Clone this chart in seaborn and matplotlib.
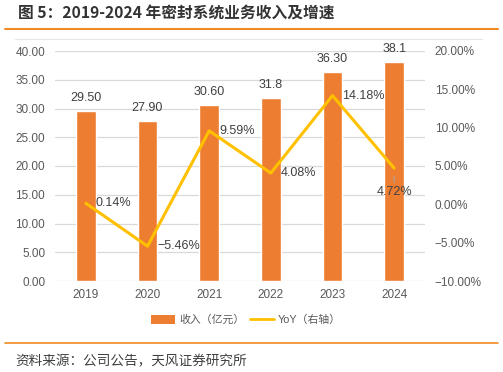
import numpy as np
import pandas as pd
import seaborn as sns
import matplotlib.pyplot as plt
from matplotlib.patches import Patch
from matplotlib.lines import Line2D
import matplotlib.ticker as ticker

# ---------------------------
# DATA
# ---------------------------
years = ["2019", "2020", "2021", "2022", "2023", "2024"]
revenue = [29.50, 27.90, 30.60, 31.8, 36.30, 38.1]
revenue_labels = ["29.50", "27.90", "30.60", "31.8", "36.30", "38.1"]
yoy = [0.14, -5.46, 9.59, 4.08, 14.18, 4.72]

title = "图 5：2019-2024 年密封系统业务收入及增速"
source = "资料来源：公司公告，天风证券研究所"

df = pd.DataFrame({"year": years, "revenue": revenue, "yoy": yoy})

# ---------------------------
# STYLE
# ---------------------------
sns.set_theme(style="white")
plt.rcParams["font.family"] = ["Liberation Sans", "Noto Sans CJK SC", "DejaVu Sans"]
plt.rcParams["axes.unicode_minus"] = True

bar_color = "#ED7D31"
line_color = "#FFC000"
accent = "#F08A24"
tick_color = "#595959"
label_color = "#404040"
grid_color = "#D9D9D9"

fig = plt.figure(figsize=(5.03, 3.72), dpi=100)
ax = fig.add_axes([55 / 503, 1 - 281 / 372, 370 / 503, 230 / 372])

# ---------------------------
# BARS
# ---------------------------
sns.barplot(data=df, x="year", y="revenue", color=bar_color,
            width=0.32, saturation=1, ax=ax, zorder=2)
ax.set_ylim(0, 40)
ax.set_xlim(-0.5, len(years) - 0.5)
ax.yaxis.set_major_locator(ticker.MultipleLocator(5))
ax.yaxis.set_major_formatter(ticker.FuncFormatter(lambda v, p: f"{v:.2f}"))
ax.grid(axis="y", color=grid_color, linewidth=0.9, zorder=0)
ax.set_axisbelow(True)
for s in ax.spines.values():
    s.set_visible(False)
ax.set_xlabel("")
ax.set_ylabel("")
ax.tick_params(axis="both", length=0, labelsize=8.5, colors=tick_color)
ax.tick_params(axis="y", pad=7)
ax.tick_params(axis="x", pad=6)

for i, (v, lab) in enumerate(zip(revenue, revenue_labels)):
    ax.annotate(lab, (i, v), xytext=(0, 5), textcoords="offset points",
                ha="center", va="bottom", fontsize=9, color=label_color)

# ---------------------------
# YOY LINE (right axis)
# ---------------------------
ax2 = ax.twinx()
sns.lineplot(x=np.arange(len(years)), y=yoy, color=line_color,
             linewidth=2.2, ax=ax2, zorder=3)
ax2.set_ylim(-10, 20)
ax2.yaxis.set_major_locator(ticker.MultipleLocator(5))
ax2.yaxis.set_major_formatter(ticker.FuncFormatter(lambda v, p: f"{v:.2f}%".replace("-", "\u2212")))
for s in ax2.spines.values():
    s.set_visible(False)
ax2.grid(False)
ax2.tick_params(axis="y", length=0, labelsize=8.5, colors=tick_color, pad=7)

for i, v in enumerate(yoy):
    txt = f"{v:.2f}%".replace("-", "\u2212")
    if i == len(yoy) - 1:
        ax2.annotate(txt, (i, v), xytext=(0, -17), textcoords="offset points",
                     ha="center", va="center", fontsize=9, color=label_color,
                     arrowprops=dict(arrowstyle="-", color="#A6A6A6", lw=0.8,
                                     shrinkA=0, shrinkB=6))
    else:
        ax2.annotate(txt, (i, v), xytext=(7, 0), textcoords="offset points",
                     ha="left", va="center", fontsize=9, color=label_color)

# ---------------------------
# LEGEND
# ---------------------------
handles = [Patch(facecolor=bar_color, edgecolor="none"),
           Line2D([0], [0], color=line_color, linewidth=2)]
fig.legend(handles, ["收入（亿元）", "YoY（右轴）"], loc="center",
           bbox_to_anchor=(246 / 503, 1 - 320 / 372), ncol=2, frameon=False,
           fontsize=7.8, labelcolor=tick_color, handlelength=2.2,
           handleheight=0.9, columnspacing=0.5, handletextpad=0.4)

# ---------------------------
# TITLE, RULES, SOURCE
# ---------------------------
fig.text(18 / 503, 1 - 14 / 372, title, fontsize=11.3, fontweight="bold",
         color="#333333", va="center", ha="left",
         family=["Noto Sans CJK SC", "DejaVu Sans"])
fig.add_artist(Line2D([5 / 503, 498 / 503], [1 - 29 / 372] * 2,
                      color=accent, linewidth=1.5))
fig.add_artist(Line2D([15 / 503, 482 / 503], [1 - 39 / 372] * 2,
                      color="#E6E6E6", linewidth=0.8))
fig.add_artist(Line2D([5 / 503, 498 / 503], [1 - 343 / 372] * 2,
                      color=accent, linewidth=1.2))
fig.text(15 / 503, 1 - 361 / 372, source, fontsize=9.8, color=label_color,
         va="center", ha="left", family=["Noto Sans CJK SC", "DejaVu Sans"])

fig.savefig("out.png", dpi=100)
